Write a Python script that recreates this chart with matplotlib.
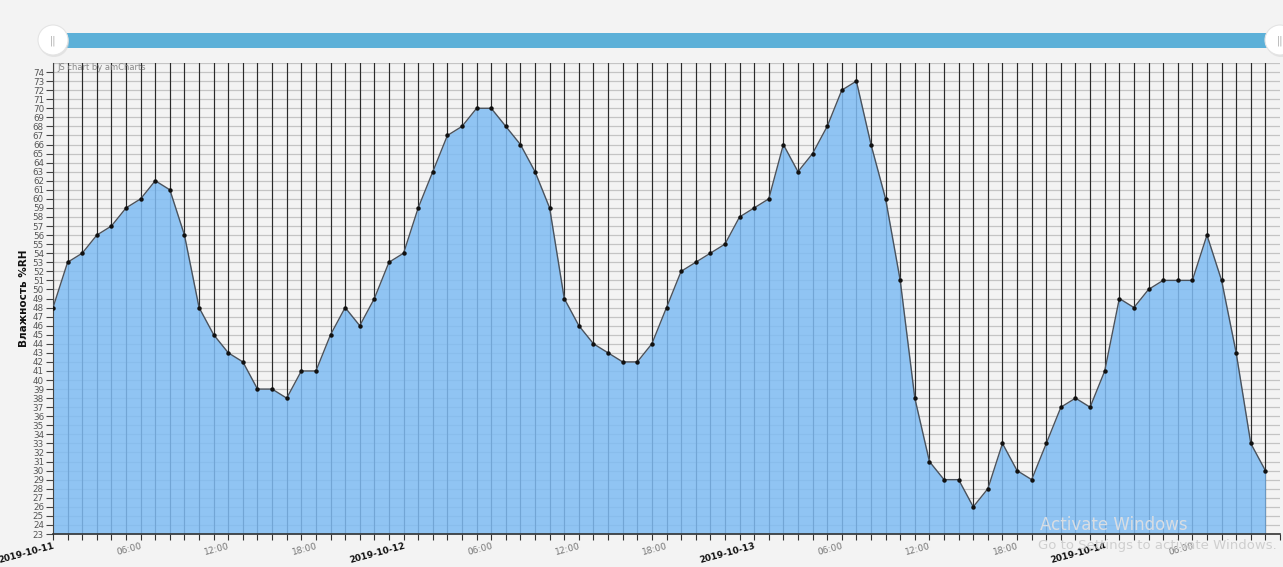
import matplotlib.pyplot as plt
from matplotlib.patches import Circle, FancyBboxPatch

# Hourly humidity readings, 2019-10-11 00:00 .. 2019-10-14 11:00
humidity = [
    48, 53, 54, 56, 57, 59, 60, 62, 61, 56, 48, 45, 43, 42, 39, 39, 38, 41, 41, 45, 48, 46, 49, 53,
    54, 59, 63, 67, 68, 70, 70, 68, 66, 63, 59, 49, 46, 44, 43, 42, 42, 44, 48, 52, 53, 54, 55, 58,
    59, 60, 66, 63, 65, 68, 72, 73, 66, 60, 51, 38, 31, 29, 29, 26, 28, 33, 30, 29, 33, 37, 38, 37,
    41, 49, 48, 50, 51, 51, 51, 56, 51, 43, 33, 30,
]
hours = list(range(len(humidity)))

label_hours = [0, 6, 12, 18, 24, 30, 36, 42, 48, 54, 60, 66, 72, 78]
label_texts = ["2019-10-11", "06:00", "12:00", "18:00",
               "2019-10-12", "06:00", "12:00", "18:00",
               "2019-10-13", "06:00", "12:00", "18:00",
               "2019-10-14", "06:00"]
y_ticks = list(range(23, 75))

bg = "#f3f3f3"
W, H = 1283, 567
fig = plt.figure(figsize=(W / 100, H / 100), dpi=100, facecolor=bg)

# main plot area in pixel terms: x 53..1280, y 63..534
ax = fig.add_axes([53 / W, (H - 534) / H, (1280 - 53) / W, (534 - 63) / H])
ax.set_facecolor(bg)
ax.set_xlim(0, 84)
ax.set_ylim(23, 75)

# grid
for h in range(0, 84):
    ax.axvline(h, color="#2a2a2a", lw=0.85, zorder=1)
for v in range(23, 76):
    ax.axhline(v, color="#c4c4c4", lw=0.9, zorder=0.5)

ax.fill_between(hours, humidity, 23, color="#7fbcf4", alpha=0.85, lw=0, zorder=2)
ax.plot(hours, humidity, color="#4a525c", lw=1.0, zorder=3)
ax.plot(hours, humidity, "o", color="#111111", ms=2.2, zorder=4)

ax.set_yticks(y_ticks)
ax.set_yticklabels([str(v) for v in y_ticks], fontsize=6.3, color="#555555")
ax.tick_params(axis="y", length=5, width=0.8, color="#444444", pad=1.5)

ax.set_xticks(range(0, 85))
ax.set_xticklabels([""] * 85)
ax.tick_params(axis="x", length=4, width=0.8, color="#333333")
for h, t in zip(label_hours, label_texts):
    is_date = t.startswith("2019")
    ax.text(h, 22.2, t, rotation=15, ha="right", va="top", rotation_mode="anchor",
            fontsize=6.5, fontweight="bold" if is_date else "normal",
            color="#111111" if is_date else "#777777", clip_on=False)

for s in ["top", "right"]:
    ax.spines[s].set_visible(False)
ax.spines["left"].set_color("#444444")
ax.spines["bottom"].set_color("#333333")
ax.spines["bottom"].set_linewidth(1.2)

ax.set_ylabel("Влажность %RH", fontsize=7.5, fontweight="bold", color="#111111", labelpad=3)

ax.text(0.3, 74.5, "JS chart by amCharts", fontsize=6, color="#888888", va="center", zorder=5)

# Windows watermark overlay from the screenshot
fig.text(1040 / W, (H - 525) / H, "Activate Windows", fontsize=12, color="#d8dde3", va="center")
fig.text(1038 / W, (H - 546) / H, "Go to Settings to activate Windows.", fontsize=9.5,
         color="#cfcfcf", va="center")

# scrollbar / slider on top
sax = fig.add_axes([0, 0, 1, 1], facecolor="none", zorder=10)
sax.set_xlim(0, W)
sax.set_ylim(H, 0)
sax.axis("off")
sax.add_patch(FancyBboxPatch((62, 33), 1210, 15, boxstyle="square,pad=0",
                             facecolor="#5cb0d8", edgecolor="none"))
for cx in (53, 1280):
    sax.add_patch(Circle((cx + 1, 42), 15, facecolor="#d8d8d8", edgecolor="none", alpha=0.6))
    sax.add_patch(Circle((cx, 40), 15, facecolor="white", edgecolor="#e4e4e4", lw=0.8))
    sax.text(cx, 41, "||", ha="center", va="center", fontsize=7, color="#aaaaaa")

fig.savefig("out.png", dpi=100, facecolor=bg)
